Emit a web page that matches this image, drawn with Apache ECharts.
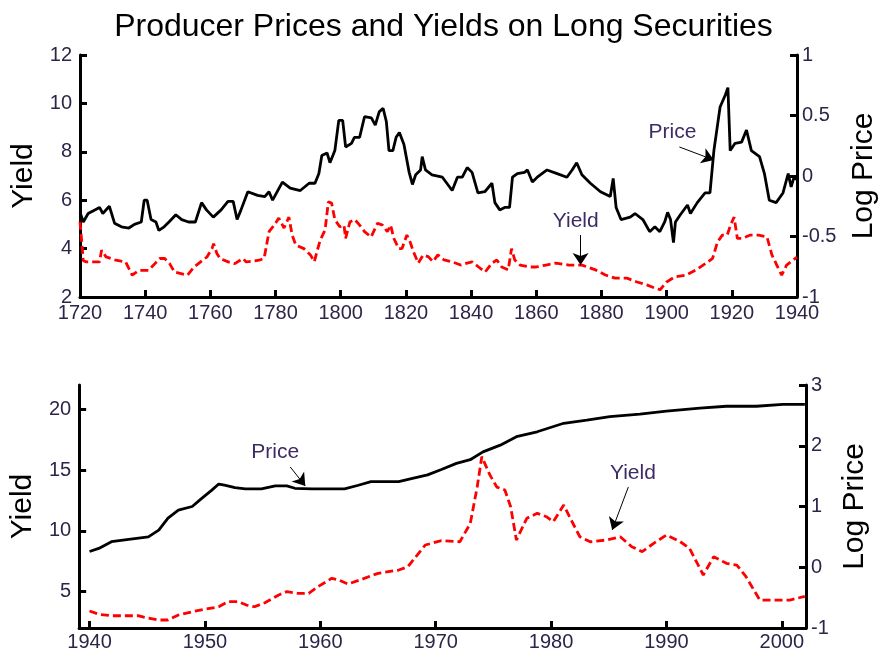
<!DOCTYPE html>
<html>
<head>
<meta charset="utf-8">
<script src="https://cdn.jsdelivr.net/npm/echarts@6/dist/echarts.min.js"></script>
<style>
  html, body { margin: 0; padding: 0; background: #fff; }
  #chart { width: 887px; height: 657px; }
</style>
</head>
<body>
<div id="chart"></div>
<script>
// 1720-1940: log price (right axis) and yield (left axis)
const topPriceYears = [1720, 1721, 1722.5, 1726, 1727, 1729, 1730.6, 1732.7, 1735, 1736.7, 1738.8, 1739.7, 1740.6, 1741.8, 1743.3, 1744.2, 1745.8, 1747.3, 1749.4, 1751.2, 1753.3, 1755.4, 1757.3, 1758.8, 1760.9, 1763.3, 1765.4, 1767, 1768.2, 1769.4, 1771.5, 1774.5, 1776.7, 1778, 1779.1, 1782.1, 1784.5, 1787.6, 1790.3, 1792.1, 1793.3, 1794.2, 1795.8, 1796.7, 1798.2, 1799.4, 1800.6, 1801.5, 1803.3, 1804.2, 1805.8, 1807.3, 1809.4, 1810.6, 1811.8, 1813, 1814, 1814.8, 1816, 1817, 1818, 1819.4, 1821, 1822, 1823, 1824.5, 1825, 1826, 1828, 1831.2, 1834.2, 1835.8, 1837.3, 1838.8, 1840.3, 1842.1, 1844.2, 1846.4, 1847.3, 1848.8, 1850.3, 1851.8, 1852.7, 1854.2, 1856.4, 1857.3, 1858.8, 1860.3, 1863.3, 1866.4, 1869.4, 1871, 1872.4, 1874, 1876.6, 1879.7, 1882.7, 1883.6, 1884.5, 1886, 1888.8, 1890.3, 1892.7, 1894.8, 1896.4, 1897.9, 1899.4, 1900.3, 1901.2, 1902.1, 1902.7, 1904.2, 1906.4, 1907.3, 1909.4, 1911.8, 1913.3, 1914.5, 1915.5, 1916.4, 1918, 1918.8, 1919.5, 1921, 1923, 1924.5, 1926, 1928.5, 1930, 1931.5, 1933.6, 1935.7, 1937.3, 1938.2, 1939.1, 1940];
const topPriceLog = [-0.30, -0.38, -0.31, -0.26, -0.31, -0.25, -0.39, -0.42, -0.43, -0.40, -0.38, -0.20, -0.20, -0.36, -0.38, -0.45, -0.42, -0.38, -0.32, -0.36, -0.38, -0.38, -0.22, -0.28, -0.34, -0.28, -0.21, -0.21, -0.36, -0.28, -0.13, -0.16, -0.17, -0.13, -0.20, -0.05, -0.10, -0.12, -0.06, -0.06, 0.02, 0.17, 0.19, 0.11, 0.21, 0.46, 0.46, 0.24, 0.27, 0.32, 0.32, 0.49, 0.48, 0.42, 0.53, 0.56, 0.45, 0.21, 0.21, 0.32, 0.36, 0.26, 0.03, -0.07, 0.01, 0.05, 0.16, 0.05, 0.01, -0.01, -0.12, -0.01, -0.01, 0.07, 0.03, -0.14, -0.13, -0.06, -0.22, -0.28, -0.26, -0.26, -0.01, 0.02, 0.03, 0.05, -0.05, -0.01, 0.05, 0.02, -0.01, 0.05, 0.11, 0.01, -0.06, -0.13, -0.17, -0.02, -0.26, -0.36, -0.34, -0.31, -0.36, -0.46, -0.42, -0.46, -0.38, -0.30, -0.36, -0.55, -0.38, -0.32, -0.24, -0.31, -0.22, -0.14, -0.14, 0.21, 0.40, 0.57, 0.67, 0.73, 0.21, 0.27, 0.28, 0.38, 0.21, 0.16, 0.02, -0.20, -0.22, -0.14, 0.02, -0.09, -0.01, -0.03];

const topYieldYears = [1720, 1720.5, 1721, 1722, 1726, 1726.6, 1728, 1731, 1734, 1736, 1738, 1741, 1743, 1744.5, 1746, 1747.5, 1749, 1751, 1753, 1755, 1757, 1759, 1760.5, 1761, 1762, 1763, 1765.5, 1767.5, 1770, 1771, 1775, 1776.5, 1778, 1779.6, 1781, 1782.6, 1784.1, 1785.1, 1786.2, 1788.7, 1790.7, 1791.9, 1792.7, 1793.7, 1795.2, 1796.2, 1797.2, 1798.2, 1799.7, 1801, 1801.5, 1802.8, 1804.3, 1805.8, 1807.3, 1809.3, 1811.3, 1812.8, 1814.3, 1815.3, 1816.3, 1817.8, 1818.8, 1820.3, 1821.3, 1822.3, 1823.8, 1825.3, 1826.8, 1828.3, 1829.8, 1831.7, 1834.2, 1836.8, 1838.8, 1840.3, 1842.3, 1844.3, 1846.4, 1847.9, 1849.4, 1851.4, 1852.4, 1853.4, 1855, 1858, 1860, 1863, 1866, 1870, 1874, 1878.2, 1881.2, 1884.2, 1887.8, 1890.9, 1893.9, 1896.4, 1898, 1900, 1902.5, 1906, 1909, 1912.1, 1914.1, 1915.6, 1917.1, 1918.6, 1919.6, 1920.7, 1921.7, 1923.2, 1925.7, 1928.2, 1930.8, 1932.3, 1933.8, 1935.3, 1936.8, 1940];
const topYield = [5.1, 4.35, 3.5, 3.45, 3.45, 3.93, 3.66, 3.52, 3.45, 2.9, 3.1, 3.1, 3.38, 3.59, 3.59, 3.38, 3.03, 2.97, 2.9, 3.24, 3.45, 3.66, 4.0, 4.2, 3.8, 3.59, 3.45, 3.38, 3.59, 3.45, 3.52, 3.6, 4.7, 4.97, 5.26, 4.85, 5.3, 4.56, 4.15, 4.0, 3.74, 3.46, 3.87, 4.35, 4.77, 5.93, 5.88, 5.2, 4.9, 4.97, 4.42, 5.1, 5.2, 4.97, 4.7, 4.48, 5.05, 4.97, 4.7, 4.97, 4.42, 4.0, 4.0, 4.56, 4.27, 3.87, 3.4, 3.74, 3.67, 3.46, 3.74, 3.53, 3.45, 3.32, 3.4, 3.45, 3.24, 3.03, 3.4, 3.53, 3.24, 3.12, 4.0, 3.53, 3.32, 3.24, 3.24, 3.32, 3.4, 3.32, 3.32, 3.12, 2.91, 2.78, 2.78, 2.62, 2.5, 2.37, 2.3, 2.62, 2.83, 2.91, 3.12, 3.4, 3.6, 4.27, 4.56, 4.56, 4.97, 5.3, 4.42, 4.42, 4.56, 4.56, 4.48, 3.74, 3.32, 2.9, 3.32, 3.65];

// 1940-2002
const botPriceYears = [1940, 1940.8, 1941.9, 1943.4, 1945.1, 1946, 1946.8, 1947.7, 1948.9, 1949.7, 1950.6, 1951.2, 1951.7, 1952.6, 1953.5, 1954.9, 1956.1, 1957.1, 1957.8, 1959.3, 1962.1, 1963.3, 1964.4, 1966.8, 1967.9, 1969.3, 1970.5, 1971.8, 1973, 1974.1, 1975.6, 1977, 1978.8, 1981.1, 1983.1, 1985.1, 1987.7, 1990, 1992.9, 1995.2, 1997.8, 2000.1, 2002];
const botPriceLog = [0.26, 0.31, 0.42, 0.46, 0.50, 0.61, 0.81, 0.94, 1.00, 1.13, 1.27, 1.37, 1.35, 1.31, 1.29, 1.29, 1.34, 1.34, 1.30, 1.29, 1.29, 1.35, 1.41, 1.41, 1.46, 1.52, 1.61, 1.71, 1.77, 1.90, 2.01, 2.15, 2.23, 2.37, 2.42, 2.48, 2.52, 2.57, 2.62, 2.65, 2.65, 2.68, 2.68];

const botYieldYears = [1940, 1940.8, 1941.9, 1944.2, 1944.8, 1946, 1946.8, 1947.7, 1948.9, 1950, 1951.2, 1952, 1952.9, 1953.6, 1954.3, 1955.2, 1956.4, 1957.1, 1958.1, 1959, 1959.8, 1961, 1961.6, 1962.4, 1963.6, 1965, 1966.8, 1967.6, 1969.1, 1970.5, 1972.1, 1973, 1973.6, 1974, 1974.7, 1975.3, 1976, 1976.5, 1977, 1977.9, 1978.8, 1979.6, 1980.2, 1981.1, 1981.6, 1982.5, 1983.4, 1984.8, 1986, 1987, 1987.9, 1988.9, 1990, 1991.2, 1992, 1993.2, 1994.1, 1995.2, 1996.1, 1996.9, 1998.1, 1999.3, 2000.7, 2002];
const botYield = [3.40, 3.13, 3.01, 3.01, 2.88, 2.66, 2.66, 3.07, 3.34, 3.54, 3.75, 4.17, 4.17, 3.89, 3.75, 4.08, 4.72, 4.99, 4.85, 4.85, 5.40, 6.09, 5.95, 5.62, 6.01, 6.50, 6.77, 7.05, 8.83, 9.19, 9.10, 10.6, 13.6, 16.1, 14.6, 13.6, 13.36, 11.98, 9.24, 11.03, 11.44, 11.16, 10.75, 12.12, 11.16, 9.51, 9.10, 9.24, 9.51, 8.69, 8.28, 8.97, 9.65, 9.10, 8.56, 6.36, 7.87, 7.32, 7.18, 6.22, 4.30, 4.30, 4.30, 4.60];

const topXTicks = [1720, 1740, 1760, 1780, 1800, 1820, 1840, 1860, 1880, 1900, 1920, 1940];
const botXTicks = [1940, 1950, 1960, 1970, 1980, 1990, 2000];
const botYieldTicks = [5, 10, 15, 20];

const zip = (xs, ys) => xs.map((x, i) => [x, ys[i]]);

const FONT = 'Arial, "Liberation Sans", sans-serif';
const TICK_COLOR = '#2e2448';
const NOTE_COLOR = '#3d2b66';

const axisLine = { show: true, onZero: false, lineStyle: { color: '#000', width: 3 } };
const axisTick = { show: true, inside: true, length: 7, lineStyle: { color: '#000', width: 3 } };
const tickLabel = { color: TICK_COLOR, fontSize: 20, fontFamily: FONT };
const yearLabel = Object.assign({ formatter: v => String(v) }, tickLabel);
const nameStyle = { color: '#000', fontSize: 30, fontFamily: FONT };

function arrow(from, to) {
  return [{ coord: from }, { coord: to }];
}
function note(text, at) {
  return {
    coord: at, value: text, symbol: 'circle', symbolSize: 1,
    itemStyle: { color: 'rgba(0,0,0,0)' },
    label: { show: true, position: 'inside', formatter: text, color: NOTE_COLOR, fontSize: 21, fontFamily: FONT }
  };
}
const arrowStyle = {
  silent: true, symbol: ['none', 'arrow'], symbolSize: 12,
  lineStyle: { color: '#000', width: 1, type: 'solid' },
  label: { show: false }
};

const chart = echarts.init(document.getElementById('chart'));
chart.setOption({
  animation: false,
  backgroundColor: '#fff',
  title: {
    text: 'Producer Prices and Yields on Long Securities',
    left: 'center', top: 6,
    textStyle: { fontSize: 32, fontWeight: 'normal', color: '#000', fontFamily: FONT }
  },
  grid: [
    { left: 80, right: 81, top: 55, height: 242 },
    { left: 79, right: 81, top: 385, height: 243 }
  ],
  xAxis: [
    {
      type: 'value', gridIndex: 0, min: 1720, max: 1940, interval: 20,
      axisLine, axisTick, splitLine: { show: false },
      axisLabel: Object.assign({ margin: 6, customValues: topXTicks }, yearLabel)
    },
    {
      type: 'value', gridIndex: 1, min: 1939.1, max: 2002.1,
      axisLine, splitLine: { show: false },
      axisTick: Object.assign({ customValues: botXTicks }, axisTick),
      axisLabel: Object.assign({ margin: 4, customValues: botXTicks }, yearLabel)
    }
  ],
  yAxis: [
    {
      type: 'value', gridIndex: 0, position: 'left', min: 2, max: 12, interval: 2,
      name: 'Yield', nameLocation: 'middle', nameGap: 38, nameTextStyle: nameStyle,
      axisLine, axisTick, splitLine: { show: false },
      axisLabel: Object.assign({ margin: 8 }, tickLabel)
    },
    {
      type: 'value', gridIndex: 0, position: 'right', min: -1, max: 1, interval: 0.5,
      name: 'Log Price', nameLocation: 'middle', nameGap: 52, nameTextStyle: nameStyle,
      axisLine, axisTick, splitLine: { show: false },
      axisLabel: Object.assign({ margin: 5 }, tickLabel)
    },
    {
      type: 'value', gridIndex: 1, position: 'left', min: 2, max: 22,
      name: 'Yield', nameLocation: 'middle', nameGap: 38, nameTextStyle: nameStyle,
      axisLine, splitLine: { show: false },
      axisTick: Object.assign({ customValues: botYieldTicks }, axisTick),
      axisLabel: Object.assign({ margin: 8, customValues: botYieldTicks }, tickLabel)
    },
    {
      type: 'value', gridIndex: 1, position: 'right', min: -1, max: 3, interval: 1,
      name: 'Log Price', nameLocation: 'middle', nameGap: 31, nameTextStyle: nameStyle,
      axisLine, axisTick, splitLine: { show: false },
      axisLabel: Object.assign({ margin: 5 }, tickLabel)
    }
  ],
  series: [
    {
      name: 'Yield', type: 'line', xAxisIndex: 0, yAxisIndex: 0, symbol: 'none',
      data: zip(topYieldYears, topYield),
      lineStyle: { color: '#ff0000', width: 2.8, type: [8, 4] },
      markLine: Object.assign({
        data: [arrow([1903.9, 8.2], [1914.5, 7.66]), arrow([1873.6, 4.56], [1873.6, 3.32])]
      }, arrowStyle),
      markPoint: { silent: true, data: [note('Price', [1901.8, 8.82]), note('Yield', [1872.1, 5.14])] }
    },
    {
      name: 'Price', type: 'line', xAxisIndex: 0, yAxisIndex: 1, symbol: 'none',
      data: zip(topPriceYears, topPriceLog),
      lineStyle: { color: '#000', width: 2.8 }
    },
    {
      name: 'Yield', type: 'line', xAxisIndex: 1, yAxisIndex: 2, symbol: 'none',
      data: zip(botYieldYears, botYield),
      lineStyle: { color: '#ff0000', width: 2.8, type: [8, 4] },
      markLine: Object.assign({
        data: [arrow([1957.4, 15.25], [1958.7, 13.69]), arrow([1986.7, 13.6], [1985.3, 10.07])]
      }, arrowStyle),
      markPoint: { silent: true, data: [note('Price', [1956.1, 16.49]), note('Yield', [1987.1, 14.76])] }
    },
    {
      name: 'Price', type: 'line', xAxisIndex: 1, yAxisIndex: 3, symbol: 'none',
      data: zip(botPriceYears, botPriceLog),
      lineStyle: { color: '#000', width: 2.8 }
    }
  ]
});
</script>
</body>
</html>
